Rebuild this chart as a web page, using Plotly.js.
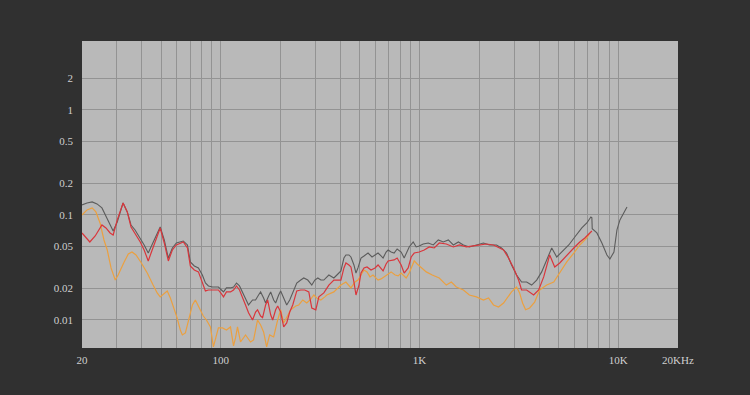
<!DOCTYPE html>
<html>
<head>
<meta charset="utf-8">
<script src="https://cdn.plot.ly/plotly-3.0.1.min.js"></script>
<style>html,body{margin:0;padding:0;background:#303030;}#chart{width:750px;height:395px;}</style>
</head>
<body>
<div id="chart"></div>
<script>
// Frequencies (Hz) and magnitudes
const grayFreq = [20,21.2,22.5,23.8,25.2,27.1,28.7,30.1,32.2,33.8,35.3,37.0,39.3,41.1,43.1,45.1,47.3,49.5,51.9,54.4,57.0,59.7,64.7,67.9,70.2,73.5,77.1,80.7,83.6,86.6,90.7,97.2,100.7,103.1,106.7,111.8,115.8,119.9,124.1,128.6,133.1,137.8,144.4,149.5,154.8,158.5,164.1,168.0,174.0,178.1,184.4,188.7,195.4,200,207.1,214.5,222.1,230,241,252.4,261.4,273.8,286.9,297.1,307.7,318.6,329.9,349.6,370.6,388.3,402,416.3,426.1,441.2,451.6,467.6,478.7,490,507.4,525.4,550.5,576.7,597,618.3,640.3,655.4,678.7,694.7,719.4,744.9,771.4,808.2,836.9,866.6,887.2,929.3,962.2,996.3,1043.6,1106.6,1172.8,1242.9,1317.5,1396.4,1480.2,1568.7,1662.6,1782,1933.8,2098,2248,2440,2587,2742,2906,3080,3264,3460,3667,3887,4119,4366,4628,4905,5198,5640,6047,6560,6953,7285,7370,7400,7811,8279,8775,9085,9519,9857,10204,10694,11073];
const grayVal = [0.1246,0.1302,0.1331,0.1274,0.1167,0.0897,0.0704,0.0858,0.1302,0.1069,0.0803,0.0720,0.0604,0.0518,0.0434,0.0518,0.0645,0.0769,0.0578,0.0389,0.0485,0.0541,0.0565,0.0518,0.0357,0.0327,0.0313,0.0268,0.0225,0.0211,0.0206,0.0206,0.0193,0.0185,0.0202,0.0202,0.0206,0.0225,0.0211,0.0185,0.0162,0.0139,0.0155,0.0155,0.0173,0.0185,0.0162,0.0145,0.0169,0.0185,0.0155,0.0145,0.0173,0.0189,0.0162,0.0139,0.0155,0.0185,0.0225,0.0240,0.0251,0.0240,0.0215,0.0240,0.0251,0.0240,0.0240,0.0268,0.0251,0.0274,0.0293,0.0389,0.0416,0.0416,0.0398,0.0334,0.0280,0.0313,0.0389,0.0407,0.0434,0.0398,0.0416,0.0434,0.0407,0.0389,0.0444,0.0464,0.0444,0.0434,0.0474,0.0444,0.0389,0.0444,0.0496,0.0553,0.0496,0.0507,0.0529,0.0541,0.0518,0.0578,0.0553,0.0578,0.0518,0.0553,0.0518,0.0496,0.0518,0.0541,0.0518,0.0518,0.0485,0.0434,0.0334,0.0268,0.0230,0.0230,0.0215,0.0240,0.0287,0.0373,0.0485,0.0398,0.0444,0.0518,0.0617,0.0752,0.0839,0.0957,0.0940,0.0740,0.0674,0.0541,0.0416,0.0381,0.0444,0.0720,0.0897,0.1046,0.1193];

const redFreq = [20,20.95,21.9,23.3,24.65,25.2,26.4,27.7,28.7,30.1,32.2,33.8,35.3,37.0,39.3,41.1,43.1,45.1,47.3,49.5,51.9,54.4,57.0,59.7,64.7,67.9,70.2,73.5,77.1,80.7,83.6,86.6,90.7,97.2,100.7,103.1,106.7,111.8,115.8,119.9,124.1,128.6,133.1,137.8,144.4,149.5,153.0,158.5,162.2,168.0,172.0,178.1,182.3,188.7,193.2,200,207.1,214.5,222.1,230,241,252.4,264.4,277.1,286.9,300.6,311.3,329.9,349.6,370.6,402,416.3,426.1,441.2,451.6,467.6,478.7,495.7,507.4,525.4,544.1,570,597,618.3,640.3,655.4,678.7,694.7,744.9,771.4,808.2,836.9,876.8,907.9,940.2,996.3,1056,1119,1186,1257,1364,1480,1587,1721,1868,2002,2172,2357,2527,2648,2806,2974,3152,3264,3460,3624,3753,3978,4217,4521,4792,5079,5510,5978,6409,6793,7370];
const redVal = [0.0674,0.0604,0.0553,0.0631,0.0769,0.0803,0.0752,0.0674,0.0645,0.0897,0.1302,0.1069,0.0769,0.0674,0.0553,0.0464,0.0365,0.0464,0.0604,0.0752,0.0541,0.0365,0.0464,0.0518,0.0553,0.0485,0.0327,0.0299,0.0287,0.0225,0.0189,0.0193,0.0193,0.0193,0.0177,0.0166,0.0185,0.0185,0.0193,0.0211,0.0193,0.0166,0.0139,0.0117,0.0100,0.0119,0.0125,0.0109,0.0105,0.0139,0.0155,0.0112,0.0100,0.0125,0.0136,0.0119,0.00858,0.00937,0.0119,0.0139,0.0189,0.0193,0.0193,0.0185,0.0130,0.0125,0.0166,0.0181,0.0215,0.0240,0.0240,0.0313,0.0349,0.0334,0.0320,0.0230,0.0173,0.0215,0.0280,0.0313,0.0320,0.0299,0.0313,0.0334,0.0313,0.0293,0.0341,0.0365,0.0373,0.0389,0.0334,0.0280,0.0313,0.0398,0.0434,0.0444,0.0464,0.0496,0.0485,0.0541,0.0529,0.0496,0.0518,0.0496,0.0507,0.0518,0.0529,0.0518,0.0485,0.0464,0.0389,0.0313,0.0240,0.0193,0.0193,0.0181,0.0173,0.0193,0.0257,0.0416,0.0320,0.0349,0.0416,0.0485,0.0553,0.0604,0.0704];

const orangeFreq = [20,21.2,22.5,23.5,24.65,25.8,26.8,28.0,29.4,30.4,32.6,34.2,35.7,37.4,39.8,42.6,45.6,47.8,49.5,51.9,53.7,55.7,58.3,60.0,62.5,64.0,66.3,68.6,71.9,74.4,77.9,81.6,84.6,88.6,91.7,93.9,97.2,101.9,106.7,111.8,115.8,118.5,121.3,125.6,133.1,141.1,146.1,153.0,158.5,164.1,170.0,176.0,184.4,193.2,200,207.1,214.5,224.7,238.2,246.7,258.4,270.6,283.6,293.8,304.1,318.6,333.7,341.5,370.6,388.3,402,426.1,451.6,473.2,490,507.4,525.4,544.1,563.4,583.4,618.3,640.3,662.9,694.7,719.4,753.7,780.4,808.2,836.9,856.6,887.2,907.9,940.2,973.5,1008,1081,1159,1257,1364,1446,1532,1663,1782,1934,2098,2224,2357,2498,2648,2742,2906,3080,3189,3302,3420,3583,3797,4025,4366,4737,5079,5510,5978,6409,6953,7200];
const orangeVal = [0.1000,0.1117,0.1167,0.1069,0.0839,0.0578,0.0464,0.0313,0.0240,0.0268,0.0357,0.0425,0.0444,0.0416,0.0349,0.0280,0.0215,0.0181,0.0166,0.0181,0.0189,0.0162,0.0125,0.0107,0.00803,0.0072,0.00752,0.00957,0.0139,0.0155,0.0130,0.0109,0.0100,0.00858,0.00554,0.00645,0.00839,0.00839,0.00803,0.00858,0.00567,0.00674,0.00858,0.00617,0.0072,0.00617,0.00645,0.0100,0.00896,0.00769,0.00554,0.0072,0.00689,0.0100,0.0125,0.00937,0.0105,0.0125,0.0136,0.0139,0.0155,0.0145,0.0158,0.0173,0.0162,0.0155,0.0166,0.0173,0.0185,0.0202,0.0215,0.0230,0.0202,0.0230,0.0240,0.0268,0.0299,0.0287,0.0257,0.0268,0.0240,0.0246,0.0257,0.0274,0.0287,0.0268,0.0263,0.0280,0.0263,0.0251,0.0280,0.0313,0.0365,0.0341,0.0320,0.0287,0.0268,0.0251,0.0215,0.0230,0.0206,0.0193,0.0173,0.0166,0.0155,0.0162,0.0139,0.0133,0.0145,0.0158,0.0185,0.0206,0.0181,0.0145,0.0125,0.0130,0.0148,0.0193,0.0215,0.0230,0.0280,0.0357,0.0434,0.0518,0.0604,0.0674];

// Axis ticks
const xGridVals = [20,30,40,50,60,70,80,90,100,200,300,400,500,600,700,800,900,1000,2000,3000,4000,5000,6000,7000,8000,9000,10000,20000];
const xLabelMap = {20:'20',100:'100',1000:'1K',10000:'10K',20000:'20KHz'};
const yTickVals = [0.01,0.02,0.05,0.1,0.2,0.5,1,2];
const yTickText = ['0.01','0.02','0.05','0.1','0.2','0.5','1','2'];

const xTickText = xGridVals.map(v => xLabelMap[v] || '');

const traces = [
  {x: grayFreq, y: grayVal, type:'scatter', mode:'lines', line:{color:'#5c5c5c', width:1.1}, hoverinfo:'skip'},
  {x: orangeFreq, y: orangeVal, type:'scatter', mode:'lines', line:{color:'#eba040', width:1.2}, hoverinfo:'skip'},
  {x: redFreq, y: redVal, type:'scatter', mode:'lines', line:{color:'#d9363c', width:1.2}, hoverinfo:'skip'}
];

const tickFont = {family:'"Liberation Serif", "DejaVu Serif", serif', size:11, color:'#cfcfcf'};

const layout = {
  width:750, height:395,
  margin:{l:82, r:72, t:41, b:47, pad:0},
  paper_bgcolor:'#303030',
  plot_bgcolor:'#b9b9b9',
  showlegend:false,
  hovermode:false,
  xaxis:{
    type:'log',
    range:[Math.log10(20), Math.log10(20000)],
    tickmode:'array', tickvals:xGridVals, ticktext:xTickText,
    showgrid:true, gridcolor:'#939393', gridwidth:1,
    zeroline:false, showline:false, ticks:'',
    tickfont:tickFont, ticklabelstandoff:4
  },
  yaxis:{
    type:'log',
    range:[-2.267, 0.657],
    tickmode:'array', tickvals:yTickVals, ticktext:yTickText,
    showgrid:true, gridcolor:'#939393', gridwidth:1,
    zeroline:false, showline:false, ticks:'',
    tickfont:tickFont, ticklabelstandoff:8
  }
};

Plotly.newPlot('chart', traces, layout, {displayModeBar:false, staticPlot:true});
</script>
</body>
</html>
